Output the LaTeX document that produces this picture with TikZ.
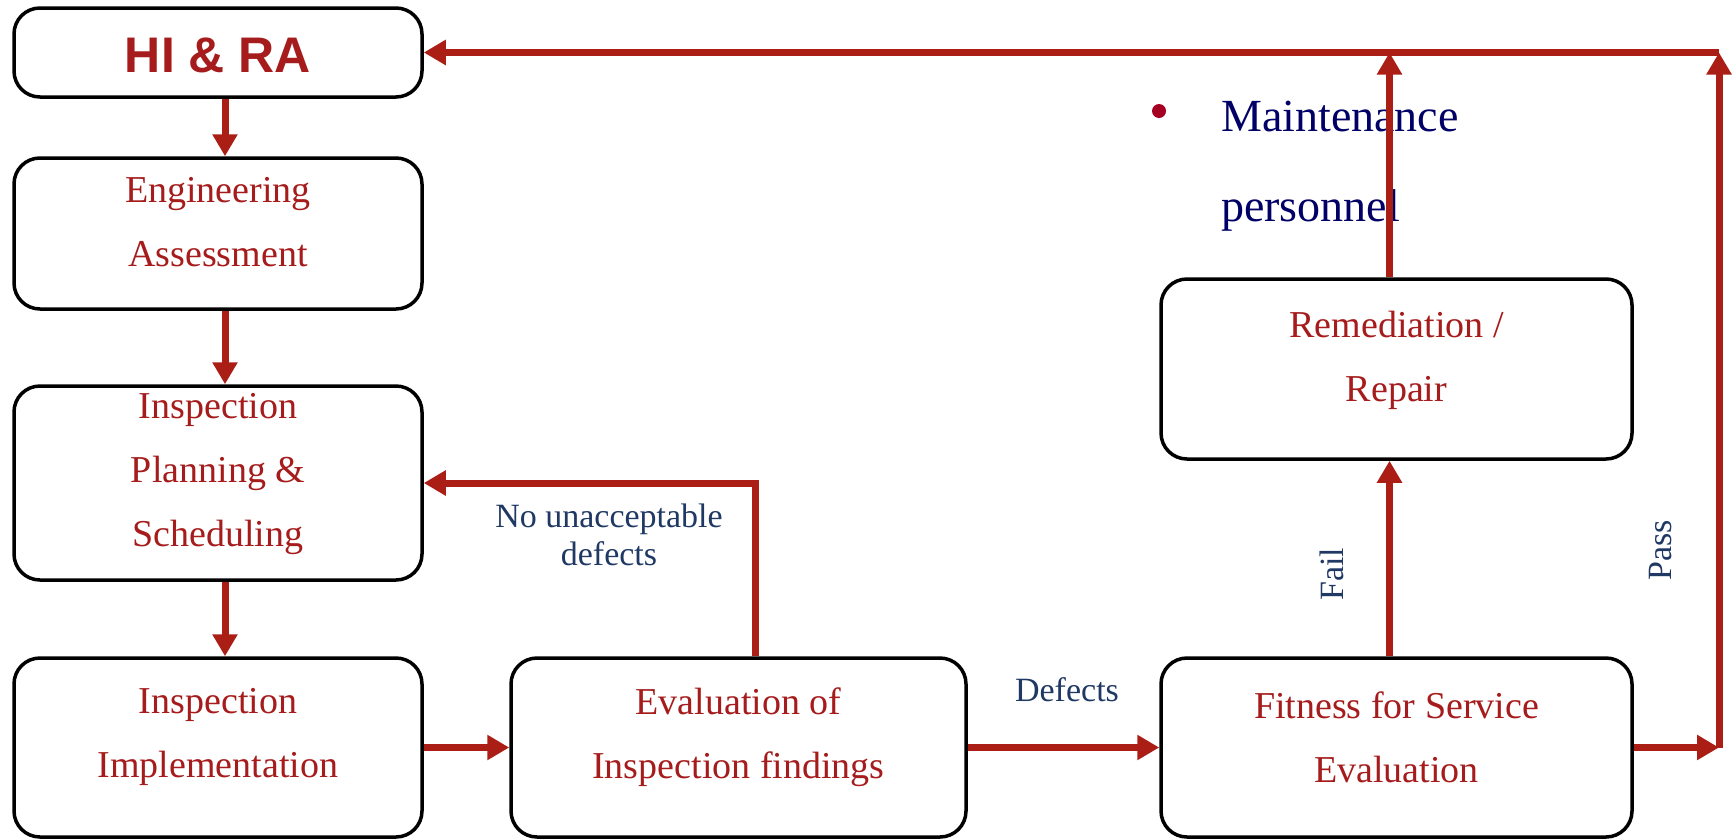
\documentclass[tikz,border=0pt]{standalone}
\usepackage{fontspec}
\setmainfont{Liberation Serif}
\newfontfamily\sansbold{Liberation Sans}
\usetikzlibrary{arrows.meta}
\definecolor{arrred}{RGB}{170,30,22}
\definecolor{txtred}{RGB}{166,28,28}
\definecolor{lblblue}{RGB}{31,56,100}
\definecolor{navytxt}{RGB}{0,0,102}
\definecolor{bulred}{RGB}{165,0,33}
\begin{document}
\begin{tikzpicture}[x=1pt,y=-1pt,
  box/.style={draw=black,line width=3.5pt,rounded corners=26pt,minimum width=408pt,inner sep=0pt,fill=white},
  boxtext/.style={text=txtred,font=\fontsize{38}{64}\selectfont,align=center,inner sep=0pt},
  arr/.style={draw=arrred,line width=7pt,-{Triangle[length=22pt,width=24pt]}},
  lbl/.style={text=lblblue,font=\fontsize{34}{38}\selectfont,align=center,inner sep=0pt}]
\useasboundingbox (0,0) rectangle (1736,839);

% boxes
\node[box,minimum height=89pt] (hi) at (218,52.5) {};
\node[box,minimum height=151pt] (eng) at (218,233.5) {};
\node[box,minimum height=194pt] (ips) at (218,483) {};
\node[box,minimum height=179pt] (ii) at (218,747.5) {};
\node[box,minimum width=455pt,minimum height=179pt] (eval) at (738.5,747.5) {};
\node[box,minimum width=471pt,minimum height=179pt] (ffs) at (1396.5,747.5) {};
\node[box,minimum width=471pt,minimum height=180pt] (rem) at (1396.5,369) {};

% box texts
\node[text=txtred,font=\sansbold\bfseries\fontsize{50}{60}\selectfont,inner sep=0pt] (hit) at (218,55) {HI \& RA};
\node[boxtext] (engt) at (218,222) {Engineering\\Assessment};
\node[boxtext] (ipst) at (218,474) {Inspection\\Planning \&\\Scheduling};
\node[boxtext] (iit) at (218,737) {Inspection\\Implementation};
\node[boxtext] (evalt) at (738.5,737) {Evaluation of\\Inspection findings};
\node[boxtext] (ffst) at (1396.5,737) {Fitness for Service\\Evaluation};
\node[boxtext] (remt) at (1396.5,360) {Remediation /\\Repair};

% maintenance personnel
\node[circle,fill=bulred,minimum size=14pt,inner sep=0pt] (bul) at (1159,111) {};
\node[anchor=base west,text=navytxt,font=\fontsize{46}{90}\selectfont,inner sep=0pt] (mp1) at (1221,131) {Maintenance};
\node[anchor=base west,text=navytxt,font=\fontsize{46}{90}\selectfont,inner sep=0pt] (mp2) at (1221,221) {personnel};

% labels
\node[lbl] (nud) at (609,535) {No unacceptable\\defects};
\node[lbl] (def) at (1067,690) {Defects};
\node[lbl,rotate=90] (fail) at (1332,574) {Fail};
\node[lbl,rotate=90] (pass) at (1661,550) {Pass};

% corner coordinates
\coordinate (tr) at (1719,52.5);
\coordinate (br) at (1719,747.5);

% arrows
\draw[arr] ([xshift=7pt]hi.south) -- ([xshift=7pt]eng.north);
\draw[arr] ([xshift=7pt]eng.south) -- ([xshift=7pt]ips.north);
\draw[arr] ([xshift=7pt]ips.south) -- ([xshift=7pt]ii.north);
\draw[arr] (ii.east) -- (eval.west);
\draw[arr] (eval.east) -- (ffs.west);
\draw[arr] ([xshift=17pt]eval.north) |- (ips.east);
\draw[arr] ([xshift=-7pt]ffs.north) -- ([xshift=-7pt]rem.south);
\draw[arr] ([xshift=-7pt]rem.north) -- ([xshift=-7pt]rem.north |- tr);
\draw[arr] (ffs.east) -- (br);
\draw[arr] (br) -- (tr);
\draw[arr] (tr) -- (hi.east);
\end{tikzpicture}
\end{document}
